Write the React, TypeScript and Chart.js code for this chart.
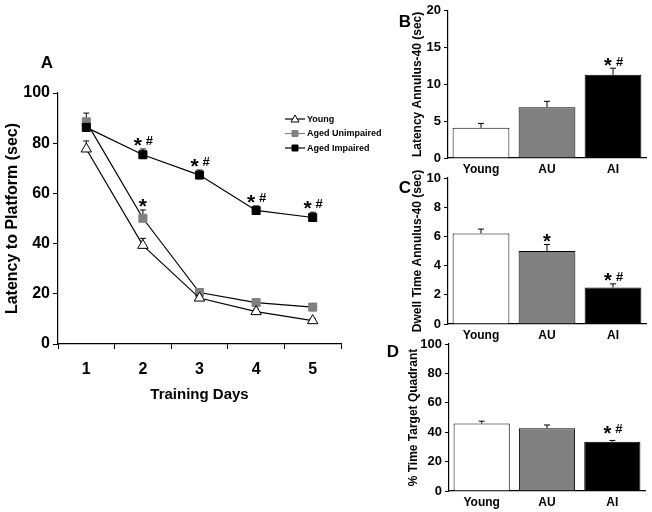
import React, { useEffect, useRef } from 'react';
import { Chart, registerables } from 'chart.js';
Chart.register(...registerables);

const FONT = '"Liberation Sans", Arial, Helvetica, sans-serif';

// ---- Panel A data ----
const days = ['1', '2', '3', '4', '5'];
const youngLatency = [77.7, 39.3, 18.3, 12.9, 9.3];
const youngErr = [3.2, 2.8, 1.0, 1.0, 0.8];
const youngMarks = ['', '', '', '', ''];
const auLatency = [88.5, 50.1, 20.5, 16.5, 14.7];
const auErr = [3.5, 3.3, 1.0, 1.0, 0.8];
const auMarks = ['', '*', '', '', ''];
const aiLatency = [86.3, 75.4, 67.3, 53.2, 50.4];
const aiErr = [1.5, 2.3, 2.0, 1.8, 2.1];
const aiMarks = ['', '* #', '* #', '* #', '* #'];

// ---- Panels B, C, D data ----
const groups = ['Young', 'AU', 'AI'];
const latencyAnnulus = [4.1, 6.9, 11.3];
const latencyAnnulusErr = [0.6, 0.8, 0.9];
const latencyAnnulusMarks = ['', '', '* #'];
const dwellTime = [6.2, 5.0, 2.5];
const dwellTimeErr = [0.3, 0.45, 0.25];
const dwellTimeMarks = ['', '*', '* #'];
const targetQuadrant = [45.9, 42.7, 33.5];
const targetQuadrantErr = [1.6, 2.2, 0.9];
const targetQuadrantMarks = ['', '', '* #'];

function drawMark(ctx: CanvasRenderingContext2D, x: number, cy: number, text: string, starSize: number, hashSize: number) {
  ctx.save();
  ctx.fillStyle = '#000';
  ctx.textAlign = 'center';
  ctx.textBaseline = 'alphabetic';
  const hasHash = text.indexOf('#') >= 0;
  const sx = hasHash ? x - 5 : x;
  ctx.font = `bold ${starSize}px ${FONT}`;
  ctx.fillText('*', sx, cy + 0.56 * starSize);
  if (hasHash) {
    ctx.font = `bold ${hashSize}px ${FONT}`;
    ctx.fillText('#', x + 6.5, cy + 0.38 * hashSize);
  }
  ctx.restore();
}

const errorPlugin = {
  id: 'errorBars',
  beforeDatasetsDraw(chart: any, _a: any, opts: any) {
    const ctx = chart.ctx;
    const yScale = chart.scales.y;
    chart.data.datasets.forEach((ds: any, di: number) => {
      const meta = chart.getDatasetMeta(di);
      if (!ds.errors) return;
      meta.data.forEach((el: any, i: number) => {
        const v = ds.data[i];
        const top = yScale.getPixelForValue(v + ds.errors[i]);
        const base = yScale.getPixelForValue(v);
        ctx.save();
        ctx.strokeStyle = '#000';
        ctx.lineWidth = 1;
        ctx.beginPath();
        ctx.moveTo(el.x, base);
        ctx.lineTo(el.x, top);
        ctx.moveTo(el.x - opts.cap, top);
        ctx.lineTo(el.x + opts.cap, top);
        ctx.stroke();
        ctx.restore();
      });
    });
  },
  afterDatasetsDraw(chart: any, _a: any, opts: any) {
    const ctx = chart.ctx;
    const yScale = chart.scales.y;
    chart.data.datasets.forEach((ds: any, di: number) => {
      const meta = chart.getDatasetMeta(di);
      if (!ds.marks) return;
      meta.data.forEach((el: any, i: number) => {
        const t = ds.marks[i];
        if (!t) return;
        const top = yScale.getPixelForValue(ds.data[i] + ds.errors[i]);
        drawMark(ctx, el.x, top - opts.gap, t, opts.star, opts.hash);
      });
    });
  },
  afterDraw(chart: any, _a: any, opts: any) {
    const ctx = chart.ctx;
    if (opts.letter) {
      ctx.save();
      ctx.fillStyle = '#000';
      ctx.font = `bold 17px ${FONT}`;
      ctx.textAlign = 'center';
      ctx.textBaseline = 'middle';
      ctx.fillText(opts.letter, opts.letterX, opts.letterY);
      ctx.restore();
    }
    if (opts.legend) {
      const { x, y, step } = opts.legend;
      chart.data.datasets.forEach((ds: any, i: number) => {
        const yy = y + i * step;
        ctx.save();
        ctx.strokeStyle = ds.legendLine || '#000';
        ctx.lineWidth = 1.2;
        ctx.beginPath();
        ctx.moveTo(x, yy);
        ctx.lineTo(x + 20, yy);
        ctx.stroke();
        const cx = x + 10;
        ctx.fillStyle = ds.pointBackgroundColor;
        ctx.strokeStyle = ds.pointBorderColor;
        ctx.lineWidth = 1;
        ctx.beginPath();
        if (ds.pointStyle === 'triangle') {
          ctx.moveTo(cx, yy - 4);
          ctx.lineTo(cx + 4, yy + 3);
          ctx.lineTo(cx - 4, yy + 3);
          ctx.closePath();
        } else {
          ctx.rect(cx - 3, yy - 3, 6, 6);
        }
        ctx.fill();
        ctx.stroke();
        ctx.fillStyle = '#000';
        ctx.font = `bold 9px ${FONT}`;
        ctx.textAlign = 'left';
        ctx.textBaseline = 'middle';
        ctx.fillText(ds.label, x + 22, yy + 0.5);
        ctx.restore();
      });
    }
  },
};

const tickFont = (size: number) => ({ family: FONT, size, weight: 'bold' as const });

function lineConfig(): any {
  return {
    type: 'line',
    data: {
      labels: days,
      datasets: [
        {
          label: 'Young', data: youngLatency, errors: youngErr, marks: youngMarks, order: 0,
          borderColor: '#000', borderWidth: 1.2, pointStyle: 'triangle', pointRadius: 6,
          pointBackgroundColor: '#fff', pointBorderColor: '#000', pointBorderWidth: 1, legendLine: '#000',
        },
        {
          label: 'Aged Unimpaired', data: auLatency, errors: auErr, marks: auMarks, order: 2,
          borderColor: '#000', borderWidth: 1.2, pointStyle: 'rect', pointRadius: 5.7,
          pointBackgroundColor: '#808080', pointBorderColor: '#808080', pointBorderWidth: 1, legendLine: '#808080',
        },
        {
          label: 'Aged Impaired', data: aiLatency, errors: aiErr, marks: aiMarks, order: 1,
          borderColor: '#000', borderWidth: 1.2, pointStyle: 'rect', pointRadius: 5.7,
          pointBackgroundColor: '#000', pointBorderColor: '#000', pointBorderWidth: 1, legendLine: '#000',
        },
      ],
    },
    options: {
      responsive: false,
      animation: false,
      layout: { padding: { left: 0, top: 53, right: 49, bottom: 0 } },
      plugins: {
        legend: { display: false },
        tooltip: { enabled: false },
        errorBars: {
          cap: 3, gap: 9, star: 21, hash: 13,
          letter: 'A', letterX: 47, letterY: 23,
          legend: { x: 285, y: 79, step: 14.5 },
        },
      },
      scales: {
        x: {
          type: 'category',
          offset: true,
          grid: { offset: true, drawOnChartArea: false, tickLength: 5, color: '#000', lineWidth: 1 },
          border: { color: '#000', width: 1.2 },
          ticks: { font: tickFont(16), color: '#000', padding: 11, maxRotation: 0 },
          title: { display: true, text: 'Training Days', font: tickFont(15), color: '#000', padding: { top: 0, bottom: 6 } },
          afterFit: (s: any) => { s.height = 66; },
        },
        y: {
          min: 0, max: 100,
          grid: { drawOnChartArea: false, tickLength: 5, color: '#000', lineWidth: 1 },
          border: { color: '#000', width: 1.2 },
          ticks: { stepSize: 20, font: tickFont(16), color: '#000', padding: 3 },
          title: { display: true, text: 'Latency to Platform (sec)', font: tickFont(16), color: '#000', padding: { top: 3, bottom: 0 } },
          afterFit: (s: any) => { s.width = 58; },
        },
      },
    },
    plugins: [errorPlugin],
  };
}

function barConfig(p: any): any {
  return {
    type: 'bar',
    data: {
      labels: groups,
      datasets: [
        {
          label: p.title, data: p.values, errors: p.errors, marks: p.marks,
          backgroundColor: ['#ffffff', '#808080', '#000000'],
          borderColor: '#000', borderWidth: 1,
          categoryPercentage: 1, barPercentage: 0.86,
        },
      ],
    },
    options: {
      responsive: false,
      animation: false,
      layout: { padding: { left: 0, top: p.padTop, right: p.padRight, bottom: 0 } },
      plugins: {
        legend: { display: false },
        tooltip: { enabled: false },
        errorBars: {
          cap: 3, gap: p.gap, star: 20, hash: 13,
          letter: p.letter, letterX: p.letterX, letterY: p.letterY,
        },
      },
      scales: {
        x: {
          grid: { display: false, drawTicks: false },
          border: { color: '#000', width: 1.2 },
          ticks: { font: tickFont(12), color: '#000', padding: 4, maxRotation: 0 },
          afterFit: (s: any) => { s.height = p.xHeight; },
        },
        y: {
          min: 0, max: p.max,
          grid: { drawOnChartArea: false, tickLength: 4, color: '#000', lineWidth: 1 },
          border: { color: '#000', width: 1.2 },
          ticks: { stepSize: p.step, font: tickFont(13), color: '#000', padding: 3 },
          title: { display: true, text: p.title, font: tickFont(12), color: '#000', padding: { top: p.titlePad, bottom: 0 } },
          afterFit: (s: any) => { s.width = p.yWidth; },
        },
      },
    },
    plugins: [errorPlugin],
  };
}

function ChartCanvas({ config, left, top, width, height }: any) {
  const ref = useRef<HTMLCanvasElement>(null);
  useEffect(() => {
    const chart = new Chart(ref.current as HTMLCanvasElement, config());
    return () => chart.destroy();
  }, []);
  return (
    <canvas
      ref={ref}
      width={width}
      height={height}
      style={{ position: 'absolute', left, top, width, height, display: 'block' }}
    />
  );
}

export default function App() {
  return (
    <div style={{ position: 'fixed', left: 0, top: 0, width: 652, height: 512, background: '#fff', overflow: 'hidden' }}>
      <ChartCanvas config={lineConfig} left={0} top={40} width={390} height={370} />
      <ChartCanvas
        left={380} top={0} width={272} height={180}
        config={() => barConfig({
          values: latencyAnnulus, errors: latencyAnnulusErr, marks: latencyAnnulusMarks,
          title: 'Latency Annulus-40 (sec)', max: 20, step: 5,
          padTop: 10, padRight: 6, yWidth: 68, xHeight: 22, titlePad: 30, gap: 7,
          letter: 'B', letterX: 25, letterY: 22,
        })}
      />
      <ChartCanvas
        left={380} top={165} width={272} height={180}
        config={() => barConfig({
          values: dwellTime, errors: dwellTimeErr, marks: dwellTimeMarks,
          title: 'Dwell Time Annulus-40 (sec)', max: 10, step: 2,
          padTop: 13, padRight: 6, yWidth: 68, xHeight: 21, titlePad: 30, gap: 8,
          letter: 'C', letterX: 25, letterY: 23,
        })}
      />
      <ChartCanvas
        left={380} top={330} width={272} height={182}
        config={() => barConfig({
          values: targetQuadrant, errors: targetQuadrantErr, marks: targetQuadrantMarks,
          title: '% Time Target Quadrant', max: 100, step: 20,
          padTop: 14, padRight: 7, yWidth: 69, xHeight: 21, titlePad: 26, gap: 12,
          letter: 'D', letterX: 13, letterY: 22,
        })}
      />
    </div>
  );
}
